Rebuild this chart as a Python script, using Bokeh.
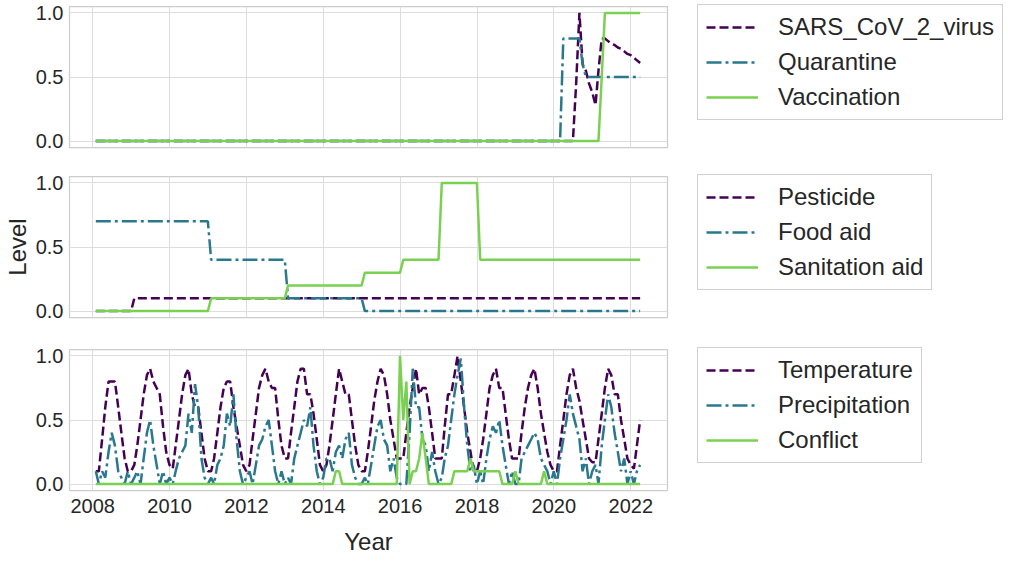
import pandas as pd
from bokeh.plotting import figure
from bokeh.layouts import column
from bokeh.models import (Legend, LegendItem, FixedTicker, Range1d,
                          DatetimeTickFormatter, NumeralTickFormatter)
from bokeh.embed import file_html
from bokeh.resources import INLINE

# ---------------- data ----------------
# monthly observations, Jan 2008 .. Mar 2022 (month ends)
dates = pd.date_range("2008-01-01", periods=171, freq="MS") + pd.offsets.MonthEnd(0)

year_ticks = [2008, 2010, 2012, 2014, 2016, 2018, 2020, 2022]
level_ticks = [0.0, 0.5, 1.0]

sars_cov_2_virus = [
    0, 0, 0, 0, 0, 0, 0, 0, 0, 0, 0, 0,            # 2008
    0, 0, 0, 0, 0, 0, 0, 0, 0, 0, 0, 0,            # 2009
    0, 0, 0, 0, 0, 0, 0, 0, 0, 0, 0, 0,            # 2010
    0, 0, 0, 0, 0, 0, 0, 0, 0, 0, 0, 0,            # 2011
    0, 0, 0, 0, 0, 0, 0, 0, 0, 0, 0, 0,            # 2012
    0, 0, 0, 0, 0, 0, 0, 0, 0, 0, 0, 0,            # 2013
    0, 0, 0, 0, 0, 0, 0, 0, 0, 0, 0, 0,            # 2014
    0, 0, 0, 0, 0, 0, 0, 0, 0, 0, 0, 0,            # 2015
    0, 0, 0, 0, 0, 0, 0, 0, 0, 0, 0, 0,            # 2016
    0, 0, 0, 0, 0, 0, 0, 0, 0, 0, 0, 0,            # 2017
    0, 0, 0, 0, 0, 0, 0, 0, 0, 0, 0, 0,            # 2018
    0, 0, 0, 0, 0, 0, 0, 0, 0, 0, 0, 0,            # 2019
    0, 0, 0, 0, 0, 0, 0.45, 1.0, 0.6, 0.55, 0.45, 0.38,                   # 2020
    0.28, 0.55, 0.8, 0.8, 0.78, 0.76, 0.75, 0.73, 0.72, 0.7, 0.68, 0.67,  # 2021
    0.65, 0.63, 0.61,                                                      # 2022
]
quarantine = [
    0, 0, 0, 0, 0, 0, 0, 0, 0, 0, 0, 0,            # 2008
    0, 0, 0, 0, 0, 0, 0, 0, 0, 0, 0, 0,            # 2009
    0, 0, 0, 0, 0, 0, 0, 0, 0, 0, 0, 0,            # 2010
    0, 0, 0, 0, 0, 0, 0, 0, 0, 0, 0, 0,            # 2011
    0, 0, 0, 0, 0, 0, 0, 0, 0, 0, 0, 0,            # 2012
    0, 0, 0, 0, 0, 0, 0, 0, 0, 0, 0, 0,            # 2013
    0, 0, 0, 0, 0, 0, 0, 0, 0, 0, 0, 0,            # 2014
    0, 0, 0, 0, 0, 0, 0, 0, 0, 0, 0, 0,            # 2015
    0, 0, 0, 0, 0, 0, 0, 0, 0, 0, 0, 0,            # 2016
    0, 0, 0, 0, 0, 0, 0, 0, 0, 0, 0, 0,            # 2017
    0, 0, 0, 0, 0, 0, 0, 0, 0, 0, 0, 0,            # 2018
    0, 0, 0, 0, 0, 0, 0, 0, 0, 0, 0, 0,            # 2019
    0, 0, 0.8, 0.8, 0.8, 0.8, 0.8, 0.8, 0.6, 0.5, 0.5, 0.5,               # 2020
    0.5, 0.5, 0.5, 0.5, 0.5, 0.5, 0.5, 0.5, 0.5, 0.5, 0.5, 0.5,           # 2021
    0.5, 0.5, 0.5,                                                         # 2022
]
vaccination = [
    0, 0, 0, 0, 0, 0, 0, 0, 0, 0, 0, 0,            # 2008
    0, 0, 0, 0, 0, 0, 0, 0, 0, 0, 0, 0,            # 2009
    0, 0, 0, 0, 0, 0, 0, 0, 0, 0, 0, 0,            # 2010
    0, 0, 0, 0, 0, 0, 0, 0, 0, 0, 0, 0,            # 2011
    0, 0, 0, 0, 0, 0, 0, 0, 0, 0, 0, 0,            # 2012
    0, 0, 0, 0, 0, 0, 0, 0, 0, 0, 0, 0,            # 2013
    0, 0, 0, 0, 0, 0, 0, 0, 0, 0, 0, 0,            # 2014
    0, 0, 0, 0, 0, 0, 0, 0, 0, 0, 0, 0,            # 2015
    0, 0, 0, 0, 0, 0, 0, 0, 0, 0, 0, 0,            # 2016
    0, 0, 0, 0, 0, 0, 0, 0, 0, 0, 0, 0,            # 2017
    0, 0, 0, 0, 0, 0, 0, 0, 0, 0, 0, 0,            # 2018
    0, 0, 0, 0, 0, 0, 0, 0, 0, 0, 0, 0,            # 2019
    0, 0, 0, 0, 0, 0, 0, 0, 0, 0, 0, 0,            # 2020
    0, 0, 0.5, 1, 1, 1, 1, 1, 1, 1, 1, 1,          # 2021
    1, 1, 1,                                       # 2022
]

pesticide = [
    0, 0, 0, 0, 0, 0, 0, 0, 0, 0, 0, 0,                                   # 2008
    0.1, 0.1, 0.1, 0.1, 0.1, 0.1, 0.1, 0.1, 0.1, 0.1, 0.1, 0.1,           # 2009
    0.1, 0.1, 0.1, 0.1, 0.1, 0.1, 0.1, 0.1, 0.1, 0.1, 0.1, 0.1,           # 2010
    0.1, 0.1, 0.1, 0.1, 0.1, 0.1, 0.1, 0.1, 0.1, 0.1, 0.1, 0.1,           # 2011
    0.1, 0.1, 0.1, 0.1, 0.1, 0.1, 0.1, 0.1, 0.1, 0.1, 0.1, 0.1,           # 2012
    0.1, 0.1, 0.1, 0.1, 0.1, 0.1, 0.1, 0.1, 0.1, 0.1, 0.1, 0.1,           # 2013
    0.1, 0.1, 0.1, 0.1, 0.1, 0.1, 0.1, 0.1, 0.1, 0.1, 0.1, 0.1,           # 2014
    0.1, 0.1, 0.1, 0.1, 0.1, 0.1, 0.1, 0.1, 0.1, 0.1, 0.1, 0.1,           # 2015
    0.1, 0.1, 0.1, 0.1, 0.1, 0.1, 0.1, 0.1, 0.1, 0.1, 0.1, 0.1,           # 2016
    0.1, 0.1, 0.1, 0.1, 0.1, 0.1, 0.1, 0.1, 0.1, 0.1, 0.1, 0.1,           # 2017
    0.1, 0.1, 0.1, 0.1, 0.1, 0.1, 0.1, 0.1, 0.1, 0.1, 0.1, 0.1,           # 2018
    0.1, 0.1, 0.1, 0.1, 0.1, 0.1, 0.1, 0.1, 0.1, 0.1, 0.1, 0.1,           # 2019
    0.1, 0.1, 0.1, 0.1, 0.1, 0.1, 0.1, 0.1, 0.1, 0.1, 0.1, 0.1,           # 2020
    0.1, 0.1, 0.1, 0.1, 0.1, 0.1, 0.1, 0.1, 0.1, 0.1, 0.1, 0.1,           # 2021
    0.1, 0.1, 0.1,                                                         # 2022
]
food_aid = [
    0.7, 0.7, 0.7, 0.7, 0.7, 0.7, 0.7, 0.7, 0.7, 0.7, 0.7, 0.7,           # 2008
    0.7, 0.7, 0.7, 0.7, 0.7, 0.7, 0.7, 0.7, 0.7, 0.7, 0.7, 0.7,           # 2009
    0.7, 0.7, 0.7, 0.7, 0.7, 0.7, 0.7, 0.7, 0.7, 0.7, 0.7, 0.7,           # 2010
    0.4, 0.4, 0.4, 0.4, 0.4, 0.4, 0.4, 0.4, 0.4, 0.4, 0.4, 0.4,           # 2011
    0.4, 0.4, 0.4, 0.4, 0.4, 0.4, 0.4, 0.4, 0.4, 0.4, 0.4, 0.4,           # 2012
    0.1, 0.1, 0.1, 0.1, 0.1, 0.1, 0.1, 0.1, 0.1, 0.1, 0.1, 0.1,           # 2013
    0.1, 0.1, 0.1, 0.1, 0.1, 0.1, 0.1, 0.1, 0.1, 0.1, 0.1, 0.1,           # 2014
    0, 0, 0, 0, 0, 0, 0, 0, 0, 0, 0, 0,                                   # 2015
    0, 0, 0, 0, 0, 0, 0, 0, 0, 0, 0, 0,                                   # 2016
    0, 0, 0, 0, 0, 0, 0, 0, 0, 0, 0, 0,                                   # 2017
    0, 0, 0, 0, 0, 0, 0, 0, 0, 0, 0, 0,                                   # 2018
    0, 0, 0, 0, 0, 0, 0, 0, 0, 0, 0, 0,                                   # 2019
    0, 0, 0, 0, 0, 0, 0, 0, 0, 0, 0, 0,                                   # 2020
    0, 0, 0, 0, 0, 0, 0, 0, 0, 0, 0, 0,                                   # 2021
    0, 0, 0,                                                               # 2022
]
sanitation_aid = [
    0, 0, 0, 0, 0, 0, 0, 0, 0, 0, 0, 0,                                   # 2008
    0, 0, 0, 0, 0, 0, 0, 0, 0, 0, 0, 0,                                   # 2009
    0, 0, 0, 0, 0, 0, 0, 0, 0, 0, 0, 0,                                   # 2010
    0.1, 0.1, 0.1, 0.1, 0.1, 0.1, 0.1, 0.1, 0.1, 0.1, 0.1, 0.1,           # 2011
    0.1, 0.1, 0.1, 0.1, 0.1, 0.1, 0.1, 0.1, 0.1, 0.1, 0.1, 0.1,           # 2012
    0.2, 0.2, 0.2, 0.2, 0.2, 0.2, 0.2, 0.2, 0.2, 0.2, 0.2, 0.2,           # 2013
    0.2, 0.2, 0.2, 0.2, 0.2, 0.2, 0.2, 0.2, 0.2, 0.2, 0.2, 0.2,           # 2014
    0.3, 0.3, 0.3, 0.3, 0.3, 0.3, 0.3, 0.3, 0.3, 0.3, 0.3, 0.3,           # 2015
    0.4, 0.4, 0.4, 0.4, 0.4, 0.4, 0.4, 0.4, 0.4, 0.4, 0.4, 0.4,           # 2016
    1.0, 1.0, 1.0, 1.0, 1.0, 1.0, 1.0, 1.0, 1.0, 1.0, 1.0, 1.0,           # 2017
    0.4, 0.4, 0.4, 0.4, 0.4, 0.4, 0.4, 0.4, 0.4, 0.4, 0.4, 0.4,           # 2018
    0.4, 0.4, 0.4, 0.4, 0.4, 0.4, 0.4, 0.4, 0.4, 0.4, 0.4, 0.4,           # 2019
    0.4, 0.4, 0.4, 0.4, 0.4, 0.4, 0.4, 0.4, 0.4, 0.4, 0.4, 0.4,           # 2020
    0.4, 0.4, 0.4, 0.4, 0.4, 0.4, 0.4, 0.4, 0.4, 0.4, 0.4, 0.4,           # 2021
    0.4, 0.4, 0.4,                                                         # 2022
]

temperature = [
    0.10, 0.10, 0.35, 0.60, 0.80, 0.80, 0.80, 0.60, 0.40, 0.20, 0.10, 0.10,  # 2008
    0.15, 0.30, 0.50, 0.70, 0.85, 0.90, 0.80, 0.75, 0.70, 0.45, 0.25, 0.15,  # 2009
    0.12, 0.30, 0.50, 0.70, 0.85, 0.90, 0.70, 0.60, 0.60, 0.40, 0.20, 0.10,  # 2010
    0.10, 0.20, 0.40, 0.60, 0.75, 0.80, 0.80, 0.60, 0.45, 0.30, 0.15, 0.10,  # 2011
    0.15, 0.35, 0.55, 0.75, 0.85, 0.90, 0.80, 0.75, 0.75, 0.50, 0.30, 0.20,  # 2012
    0.20, 0.40, 0.60, 0.80, 0.90, 0.90, 0.70, 0.70, 0.55, 0.35, 0.15, 0.10,  # 2013
    0.15, 0.30, 0.50, 0.70, 0.90, 0.80, 0.70, 0.70, 0.50, 0.30, 0.15, 0.10,  # 2014
    0.10, 0.25, 0.45, 0.65, 0.80, 0.90, 0.85, 0.70, 0.50, 0.35, 0.20, 0.20,  # 2015
    0.20, 0.40, 0.60, 0.75, 0.90, 0.70, 0.75, 0.75, 0.60, 0.40, 0.20, 0.20,  # 2016
    0.20, 0.45, 0.70, 0.70, 0.85, 1.00, 0.80, 0.60, 0.40, 0.25, 0.10, 0.10,  # 2017
    0.20, 0.35, 0.55, 0.75, 0.85, 0.90, 0.75, 0.75, 0.55, 0.35, 0.20, 0.20,  # 2018
    0.20, 0.40, 0.60, 0.75, 0.85, 0.90, 0.75, 0.55, 0.40, 0.25, 0.15, 0.10,  # 2019
    0.10, 0.30, 0.50, 0.70, 0.85, 0.90, 0.75, 0.65, 0.50, 0.35, 0.20, 0.17,  # 2020
    0.17, 0.35, 0.55, 0.75, 0.90, 0.85, 0.70, 0.70, 0.50, 0.35, 0.20, 0.15,  # 2021
    0.12, 0.30, 0.50,                                                         # 2022
]
precipitation = [
    0.10, 0.00, 0.10, 0.05, 0.25, 0.40, 0.30, 0.10, 0.05, 0.00, 0.10, 0.00,  # 2008
    0.05, 0.10, 0.00, 0.20, 0.40, 0.50, 0.30, 0.15, 0.00, 0.10, 0.00, 0.05,  # 2009
    0.00, 0.10, 0.20, 0.25, 0.30, 0.55, 0.40, 0.78, 0.60, 0.20, 0.05, 0.00,  # 2010
    0.05, 0.00, 0.15, 0.20, 0.30, 0.55, 0.45, 0.70, 0.35, 0.10, 0.00, 0.05,  # 2011
    0.10, 0.00, 0.15, 0.30, 0.35, 0.45, 0.50, 0.30, 0.10, 0.00, 0.10, 0.00,  # 2012
    0.05, 0.00, 0.20, 0.30, 0.40, 0.50, 0.45, 0.60, 0.30, 0.10, 0.00, 0.05,  # 2013
    0.20, 0.20, 0.10, 0.25, 0.30, 0.20, 0.35, 0.40, 0.15, 0.05, 0.00, 0.00,  # 2014
    0.05, 0.00, 0.15, 0.30, 0.45, 0.50, 0.35, 0.30, 0.10, 0.20, 0.05, 0.00,  # 2015
    0.00, 0.00, 0.40, 0.90, 0.60, 0.60, 0.35, 0.30, 0.10, 0.25, 0.10, 0.00,  # 2016
    0.05, 0.20, 0.30, 0.50, 0.70, 0.85, 0.98, 0.60, 0.30, 0.10, 0.15, 0.00,  # 2017
    0.10, 0.00, 0.20, 0.35, 0.45, 0.40, 0.50, 0.30, 0.15, 0.00, 0.10, 0.00,  # 2018
    0.00, 0.20, 0.25, 0.30, 0.35, 0.40, 0.35, 0.20, 0.15, 0.10, 0.00, 0.10,  # 2019
    0.00, 0.20, 0.35, 0.50, 0.70, 0.55, 0.45, 0.35, 0.10, 0.20, 0.00, 0.10,  # 2020
    0.15, 0.00, 0.30, 0.50, 0.70, 0.60, 0.40, 0.25, 0.10, 0.20, 0.00, 0.10,  # 2021
    0.00, 0.10, 0.15,                                                         # 2022
]
conflict = [
    0, 0, 0, 0, 0, 0, 0, 0, 0, 0, 0, 0,                       # 2008
    0, 0, 0, 0, 0, 0, 0, 0, 0, 0, 0, 0,                       # 2009
    0, 0, 0, 0, 0, 0, 0, 0, 0, 0, 0, 0,                       # 2010
    0, 0, 0, 0, 0, 0, 0, 0, 0, 0, 0, 0,                       # 2011
    0, 0, 0, 0, 0, 0, 0, 0, 0, 0, 0, 0,                       # 2012
    0, 0, 0, 0, 0, 0, 0, 0, 0, 0, 0, 0,                       # 2013
    0, 0, 0, 0.1, 0.1, 0, 0, 0, 0, 0, 0, 0,                   # 2014
    0, 0, 0, 0, 0, 0, 0, 0, 0, 0, 0, 1.0,                     # 2015
    0.5, 0.8, 0, 0.1, 0.1, 0.2, 0.4, 0.2, 0, 0, 0, 0,         # 2016
    0, 0, 0, 0, 0.1, 0.1, 0.1, 0.1, 0.1, 0.2, 0.1, 0.1,       # 2017
    0.1, 0.1, 0.1, 0.1, 0.1, 0.1, 0.1, 0, 0, 0, 0, 0.1,       # 2018
    0, 0, 0, 0, 0, 0, 0, 0, 0.1, 0, 0, 0,                     # 2019
    0, 0, 0, 0, 0, 0, 0, 0, 0, 0, 0, 0,                       # 2020
    0, 0, 0, 0, 0, 0, 0, 0, 0, 0, 0, 0,                       # 2021
    0, 0, 0,                                                   # 2022
]

panels = [
    [("SARS_CoV_2_virus", sars_cov_2_virus), ("Quarantine", quarantine), ("Vaccination", vaccination)],
    [("Pesticide", pesticide), ("Food aid", food_aid), ("Sanitation aid", sanitation_aid)],
    [("Temperature", temperature), ("Precipitation", precipitation), ("Conflict", conflict)],
]

# ---------------- styling ----------------
COLORS = ["#440154", "#2a788e", "#7ad151"]
DASHES = ["9 4", "15 4 3 4", "solid"]
FONT = "Liberation Sans"
TXT = "#262626"

x_range = Range1d(start=pd.Timestamp("2007-05-26"), end=pd.Timestamp("2022-12-16"))
year_ms = [pd.Timestamp(f"{y}-01-01").timestamp() * 1000 for y in year_ticks]

FRAME_W, FRAME_H = 598, 141
LEG_H = 114

figs = []
for k, series in enumerate(panels):
    last = (k == 2)
    p = figure(output_backend="svg", toolbar_location=None,
               frame_width=FRAME_W, frame_height=FRAME_H,
               x_axis_type="datetime", x_range=x_range,
               y_range=Range1d(-0.05, 1.05),
               min_border_left=63, min_border_right=334,
               min_border_top=[6, 15, 16][k],
               min_border_bottom=[14, 16, 0][k],
               background_fill_color="white", border_fill_color="white")
    p.outline_line_color = "#cccccc"
    p.outline_line_width = 1.25

    renderers = []
    for (name, vals), c, d in zip(series, COLORS, DASHES):
        r = p.line(dates, vals, line_color=c, line_width=2.5, line_dash=d)
        renderers.append((name, r))

    xt = FixedTicker(ticks=year_ms)
    p.xaxis.ticker = xt
    p.xgrid.ticker = xt
    p.xaxis.formatter = DatetimeTickFormatter(years="%Y", months="%Y", days="%Y",
                                              hours="%Y", minutes="%Y")
    yt = FixedTicker(ticks=level_ticks)
    p.yaxis.ticker = yt
    p.ygrid.ticker = yt
    p.yaxis.formatter = NumeralTickFormatter(format="0.0")

    for ax in p.xaxis + p.yaxis:
        ax.axis_line_color = None
        ax.major_tick_line_color = None
        ax.minor_tick_line_color = None
        ax.major_tick_out = 0
        ax.major_tick_in = 0
        ax.minor_tick_out = 0
        ax.minor_tick_in = 0
        ax.major_label_text_font = FONT
        ax.major_label_text_font_size = "20px"
        ax.major_label_text_color = TXT
        ax.axis_label_text_font = FONT
        ax.axis_label_text_font_size = "24px"
        ax.axis_label_text_font_style = "normal"
        ax.axis_label_text_color = TXT
    p.yaxis.major_label_standoff = 6
    p.xaxis.major_label_standoff = 8

    for g in (p.xgrid, p.ygrid):
        g.grid_line_color = "#dddddd"
        g.grid_line_width = 1

    if last:
        p.xaxis.axis_label = "Year"
        p.xaxis.axis_label_standoff = 12
    else:
        p.xaxis.visible = False
    if k == 1:
        p.yaxis.axis_label = "Level"
        p.yaxis.axis_label_standoff = 2

    legend = Legend(items=[LegendItem(label=n, renderers=[r]) for n, r in renderers],
                    location=(30, FRAME_H - LEG_H),
                    label_text_font=FONT, label_text_font_size="24px",
                    label_text_color=TXT,
                    glyph_width=52, glyph_height=28, label_height=28,
                    label_standoff=20, spacing=7, padding=8, margin=0,
                    border_line_color="#d0d0d0", border_line_alpha=1.0,
                    border_line_width=1,
                    background_fill_color="white", background_fill_alpha=1.0)
    p.add_layout(legend, "right")
    figs.append(p)

layout = column(*figs, spacing=0)
open("out.html", "w").write(file_html(layout, INLINE))
